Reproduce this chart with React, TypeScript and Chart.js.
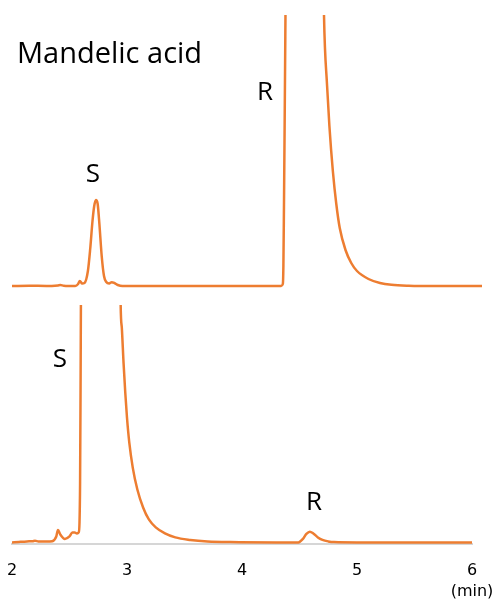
import React, { useEffect, useRef } from "react";
import { Chart, registerables } from "chart.js";

Chart.register(...registerables);

// ---- data ----
const TITLE = "Mandelic acid";
const X_TICKS = [2, 3, 4, 5, 6];
const X_UNIT = "(min)";

// Upper chromatogram (R-rich sample), retention time (min) / signal
const topTime = [
  2.0, 2.15, 2.3, 2.4, 2.42, 2.45, 2.55, 2.575, 2.59, 2.61, 2.63, 2.66, 2.68, 2.7, 2.715,
  2.73, 2.745, 2.76, 2.78, 2.8, 2.82, 2.845, 2.867, 2.89, 2.92, 2.96, 3.2, 3.6, 4.0, 4.34,
  4.355, 4.36, 4.365, 4.37, 4.38, 4.4, 4.45, 4.52, 4.6, 4.66, 4.7, 4.713, 4.74, 4.76, 4.79,
  4.82, 4.85, 4.9, 4.95, 5.0, 5.1, 5.2, 5.3, 5.45, 5.7, 6.087,
];
const topSignal = [
  0, 0.3, 0, 0.6, 0.9, 0.3, 0, 2, 5, 2.5, 3, 15, 37, 65, 80,
  86, 82, 62, 30, 10, 4, 2.5, 3.8, 3, 1, 0, 0, 0, 0, 0,
  2, 20, 80, 150, 300, 600, 1100, 1300, 1100, 700, 380, 271, 200, 160, 115,
  82, 58, 36, 23, 15, 7, 3, 1.2, 0.3, 0, 0,
];

// Lower chromatogram (S-rich sample)
const bottomTime = [
  2.0, 2.06, 2.13, 2.18, 2.2, 2.23, 2.3, 2.35, 2.385, 2.4, 2.42, 2.46, 2.5, 2.525, 2.545,
  2.565, 2.58, 2.587, 2.592, 2.596, 2.6, 2.65, 2.75, 2.85, 2.92, 2.945, 2.955, 2.97, 2.985,
  3.0, 3.02, 3.05, 3.09, 3.14, 3.19, 3.25, 3.33, 3.42, 3.55, 3.7, 3.9, 4.3, 4.49, 4.53,
  4.56, 4.59, 4.62, 4.66, 4.7, 4.75, 4.8, 5.0, 5.5, 6.0,
];
const bottomSignal = [
  0, 0.5, 1, 1.2, 1.6, 1, 0.8, 1.2, 6, 12.5, 8, 3.5, 6, 10, 10,
  9, 10, 20, 60, 150, 260, 1500, 2500, 1600, 600, 238, 215, 180, 150,
  125, 100, 75, 53, 35, 23, 15, 9, 5, 2.5, 1, 0.3, 0, 0, 3.5,
  8.5, 10.8, 9, 5, 2.5, 1, 0.3, 0, 0, 0,
];

// Peak annotations (anchored at retention time / signal level of text baseline)
const topNotes = [
  { text: TITLE, t: 2.043, v: 223, size: 29, align: "left" },
  { text: "S", t: 2.704, v: 104, size: 26, align: "center" },
  { text: "R", t: 4.2, v: 186.5, size: 26, align: "center" },
];
const bottomNotes = [
  { text: "S", t: 2.417, v: 175.5, size: 26, align: "center" },
  { text: "R", t: 4.626, v: 32.5, size: 26, align: "center" },
];

const LINE_COLOR = "#ED7D31";

const notesPlugin = (notes: any[]) => ({
  id: "notes",
  afterDatasetsDraw(chart: any) {
    const { ctx, scales } = chart;
    ctx.save();
    ctx.fillStyle = "#000";
    ctx.textBaseline = "alphabetic";
    for (const n of notes) {
      ctx.font = `${n.size}px "Open Sans", sans-serif`;
      ctx.textAlign = n.align;
      ctx.fillText(n.text, scales.x.getPixelForValue(n.t), scales.y.getPixelForValue(n.v));
    }
    ctx.restore();
  },
});

const toPoints = (xs: number[], ys: number[]) => xs.map((x, i) => ({ x, y: ys[i] }));

export default function App() {
  const topRef = useRef<HTMLCanvasElement>(null);
  const botRef = useRef<HTMLCanvasElement>(null);

  useEffect(() => {
    const top = new Chart(topRef.current!, {
      type: "line",
      data: {
        datasets: [
          {
            data: toPoints(topTime, topSignal),
            borderColor: LINE_COLOR,
            borderWidth: 2.5,
            pointRadius: 0,
            cubicInterpolationMode: "monotone",
            fill: false,
          },
        ],
      },
      options: {
        animation: false,
        responsive: false,
        devicePixelRatio: 1,
        layout: { padding: { left: 12, right: 16, top: 15, bottom: 10 } },
        plugins: { legend: { display: false }, tooltip: { enabled: false } },
        scales: {
          x: { type: "linear", min: 2, max: 6.087, display: false },
          y: { min: -4, max: 271, display: false },
        },
      },
      plugins: [notesPlugin(topNotes)],
    });

    const bottom = new Chart(botRef.current!, {
      type: "line",
      data: {
        datasets: [
          {
            data: toPoints(bottomTime, bottomSignal),
            borderColor: LINE_COLOR,
            borderWidth: 2.5,
            pointRadius: 0,
            cubicInterpolationMode: "monotone",
            fill: false,
          },
        ],
      },
      options: {
        animation: false,
        responsive: false,
        devicePixelRatio: 1,
        layout: { padding: { left: 12, right: 26, top: 5, bottom: 0 } },
        plugins: { legend: { display: false }, tooltip: { enabled: false } },
        scales: {
          x: {
            type: "linear",
            min: X_TICKS[0],
            max: X_TICKS[X_TICKS.length - 1],
            grid: { display: false, drawTicks: true, tickLength: 15 },
            border: { display: true, color: "#d6d6d6", width: 2 },
            afterBuildTicks: (axis: any) => {
              axis.ticks = X_TICKS.map((v) => ({ value: v }));
            },
            ticks: {
              autoSkip: false,
              maxRotation: 0,
              padding: 1,
              color: "#000",
              font: { family: '"DejaVu Sans", sans-serif', size: 16, lineHeight: 1.3 },
              callback: (v: any) =>
                v === X_TICKS[X_TICKS.length - 1] ? [String(v), X_UNIT] : String(v),
            },
          },
          y: { min: -2, max: 238, display: false },
        },
      },
      plugins: [notesPlugin(bottomNotes)],
    });

    return () => {
      top.destroy();
      bottom.destroy();
    };
  }, []);

  return (
    <div style={{ position: "absolute", left: 0, top: 0, width: 498, height: 603, background: "#fff" }}>
      <canvas
        ref={topRef}
        width={498}
        height={300}
        style={{ position: "absolute", left: 0, top: 0, width: 498, height: 300 }}
      />
      <canvas
        ref={botRef}
        width={498}
        height={303}
        style={{ position: "absolute", left: 0, top: 300, width: 498, height: 303 }}
      />
    </div>
  );
}
